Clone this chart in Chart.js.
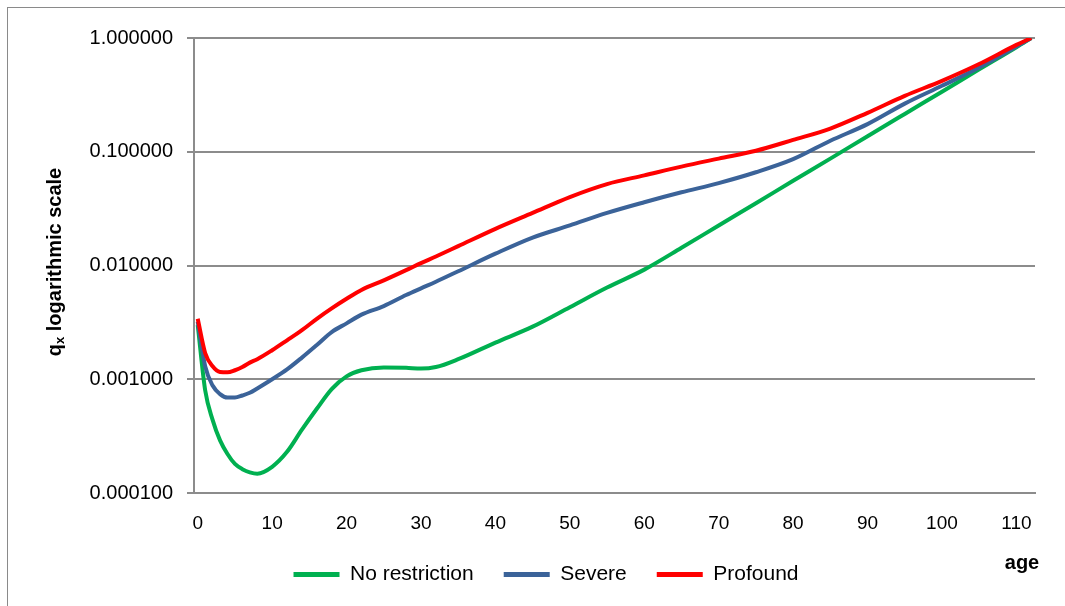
<!DOCTYPE html>
<html>
<head>
<meta charset="utf-8">
<script src="https://cdn.jsdelivr.net/npm/chart.js@4/dist/chart.umd.min.js"></script>
<style>
  html, body { margin: 0; padding: 0; background: #ffffff; }
  #wrap { width: 1065px; height: 606px; position: relative; }
</style>
</head>
<body>
<div id="wrap"><canvas id="qxChart"></canvas></div>
<script>
//DATA
var ages = [0, 1, 2, 3, 4, 5, 6, 7, 8, 10, 12, 14, 16, 18, 20, 22, 25, 28, 30, 32, 35, 40, 45, 50, 55, 60, 65, 70, 75, 80, 85, 90, 95, 100, 105, 110, 112];
var noRestriction = [0.0030, 0.00080, 0.00044, 0.00029, 0.00022, 0.00018, 0.000162, 0.000152, 0.000148, 0.00017, 0.00023, 0.00036, 0.00055, 0.00082, 0.00106, 0.00120, 0.00127, 0.00126, 0.00124, 0.00128, 0.0015, 0.0021, 0.0029, 0.0043, 0.0064, 0.0092, 0.0143, 0.0225, 0.0353, 0.0555, 0.087, 0.137, 0.215, 0.337, 0.53, 0.83, 1.0];
var severe = [0.0032, 0.0013, 0.00088, 0.00074, 0.00069, 0.00069, 0.00072, 0.00076, 0.00083, 0.0010, 0.00122, 0.00155, 0.0020, 0.0026, 0.0031, 0.0037, 0.0044, 0.0055, 0.0063, 0.0072, 0.0089, 0.0127, 0.0176, 0.0225, 0.029, 0.036, 0.044, 0.053, 0.066, 0.086, 0.125, 0.175, 0.265, 0.38, 0.55, 0.84, 1.0];
var profound = [0.0034, 0.0017, 0.0013, 0.00116, 0.00115, 0.0012, 0.00128, 0.0014, 0.0015, 0.0018, 0.0022, 0.0027, 0.0034, 0.0042, 0.0051, 0.0061, 0.0074, 0.0091, 0.0105, 0.0120, 0.0148, 0.021, 0.029, 0.040, 0.052, 0.062, 0.074, 0.087, 0.102, 0.127, 0.16, 0.22, 0.31, 0.42, 0.59, 0.87, 1.0];
var seriesNames = ["No restriction", "Severe", "Profound"];
var xTicks = [0, 10, 20, 30, 40, 50, 60, 70, 80, 90, 100, 110];
var yTicks = [0.0001, 0.001, 0.01, 0.1, 1];

//COLORS
var green = "#00B050";
var blue = "#3B6399";
var red = "#FF0000";
var gridGray = "#8C8C8C";
var textColor = "#000000";

function toPoints(values) {
  var pts = [];
  for (var i = 0; i < ages.length; i++) {
    pts.push({ x: ages[i], y: values[i] });
  }
  return pts;
}

function makeDataset(label, values, color, order) {
  return {
    label: label,
    data: toPoints(values),
    borderColor: color,
    backgroundColor: color,
    borderWidth: 4,
    pointRadius: 0,
    cubicInterpolationMode: "monotone",
    fill: false,
    order: order
  };
}

// titles and outer frame drawn on top of the chart
var extrasPlugin = {
  id: "extras",
  afterDraw: function (chart) {
    var ctx = chart.ctx;
    ctx.save();
    // frame
    ctx.strokeStyle = "#8A8A8A";
    ctx.lineWidth = 1;
    ctx.strokeRect(7.5, 7.5, 1100, 700);

    // y title with subscript
    ctx.translate(55, 262);
    ctx.rotate(-Math.PI / 2);
    ctx.fillStyle = textColor;
    ctx.textBaseline = "middle";
    var big = "bold 20px 'Liberation Sans', Arial, sans-serif";
    var small = "bold 13px 'Liberation Sans', Arial, sans-serif";
    ctx.font = big;
    var w1 = ctx.measureText("q").width;
    var w3 = ctx.measureText(" logarithmic scale").width;
    ctx.font = small;
    var w2 = ctx.measureText("x").width;
    var x0 = -(w1 + w2 + w3) / 2;
    ctx.font = big;
    ctx.textAlign = "left";
    ctx.fillText("q", x0, 0);
    ctx.font = small;
    ctx.fillText("x", x0 + w1, 5);
    ctx.font = big;
    ctx.fillText(" logarithmic scale", x0 + w1 + w2, 0);
    ctx.restore();

    // x title
    ctx.save();
    ctx.fillStyle = textColor;
    ctx.font = "bold 20px 'Liberation Sans', Arial, sans-serif";
    ctx.textAlign = "center";
    ctx.textBaseline = "middle";
    ctx.fillText("age", 1022, 563);
    ctx.restore();
  }
};

var config = {
  type: "line",
  data: {
    datasets: [
      makeDataset(seriesNames[0], noRestriction, green, 2),
      makeDataset(seriesNames[1], severe, blue, 1),
      makeDataset(seriesNames[2], profound, red, 0)
    ]
  },
  options: {
    responsive: false,
    animation: false,
    layout: { padding: { top: 38, left: 57, right: 30, bottom: 11 } },
    plugins: {
      legend: {
        display: true,
        position: "bottom",
        labels: {
          boxWidth: 46,
          boxHeight: 5,
          padding: 30,
          color: textColor,
          font: { family: "'Liberation Sans', Arial, sans-serif", size: 21 },
          sort: function (a, b) { return a.datasetIndex - b.datasetIndex; },
          generateLabels: function (chart) {
            var items = Chart.defaults.plugins.legend.labels.generateLabels(chart);
            items.forEach(function (it) { it.lineWidth = 0; });
            return items;
          }
        }
      },
      tooltip: { enabled: false }
    },
    scales: {
      x: {
        type: "linear",
        min: -0.5,
        max: 112.5,
        afterBuildTicks: function (scale) {
          scale.ticks = xTicks.map(function (v) { return { value: v }; });
        },
        afterFit: function (scale) { scale.height = 41; },
        grid: { display: false, drawTicks: false },
        border: { display: true, color: gridGray, width: 2 },
        ticks: {
          padding: 19,
          maxRotation: 0,
          color: textColor,
          font: { family: "'Liberation Sans', Arial, sans-serif", size: 19 },
          callback: function (v) { return String(v); }
        }
      },
      y: {
        type: "logarithmic",
        min: 0.0001,
        max: 1,
        afterBuildTicks: function (scale) {
          scale.ticks = yTicks.map(function (v) { return { value: v }; });
        },
        afterFit: function (scale) { scale.width = 137; },
        grid: { color: gridGray, lineWidth: 2, tickLength: 7 },
        border: { display: true, color: gridGray, width: 2 },
        ticks: {
          padding: 14,
          color: textColor,
          font: { family: "'Liberation Sans', Arial, sans-serif", size: 20 },
          callback: function (v) { return Number(v).toFixed(6); }
        }
      }
    }
  },
  plugins: [extrasPlugin]
};

var canvas = document.getElementById("qxChart");
canvas.width = 1065;
canvas.height = 606;
var qxChart = new Chart(canvas, config);
</script>
</body>
</html>
